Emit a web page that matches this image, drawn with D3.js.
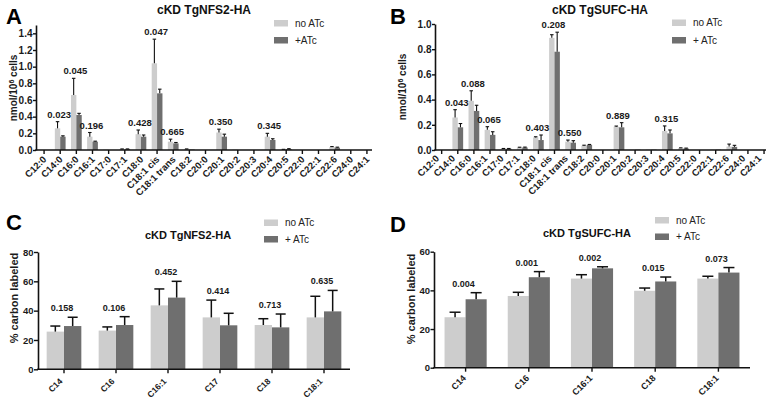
<!DOCTYPE html>
<html><head><meta charset="utf-8">
<script src="https://cdn.jsdelivr.net/npm/d3@7"></script>
<style>body{margin:0;background:#fff}svg{display:block;font-family:"Liberation Sans",Arial,Helvetica,sans-serif}</style>
</head><body><svg id="c" width="771" height="401"></svg>
<script>
// ---------- data ----------
const fattyAcids = ["C12:0","C14:0","C16:0","C16:1","C17:0","C17:1","C18:0","C18:1 cis","C18:1 trans","C18:2","C20:0","C20:1","C20:2","C20:3","C20:4","C20:5","C22:0","C22:1","C22:6","C24:0","C24:1"];

const aNoATc     = [0, 0.26, 0.66, 0.16, 0.005, 0.01, 0.19, 1.04, 0.10, 0.01, 0, 0.21, 0.005, 0, 0.16, 0.006, 0, 0, 0.035, 0, 0];
const aNoATcErr  = [0, 0.08, 0.20, 0.05, 0, 0.003, 0.05, 0.29, 0.03, 0.003, 0, 0.04, 0, 0, 0.04, 0.002, 0, 0, 0.006, 0, 0];
const aPlusATc   = [0, 0.16, 0.42, 0.10, 0, 0.01, 0.16, 0.68, 0.08, 0.006, 0, 0.16, 0, 0, 0.12, 0.012, 0, 0, 0.028, 0, 0];
const aPlusATcErr= [0, 0.01, 0.02, 0.006, 0, 0.003, 0.02, 0.05, 0.01, 0, 0, 0.03, 0, 0, 0.015, 0.004, 0, 0, 0.006, 0, 0];
const aPLabels   = [[1,"0.023"],[2,"0.045"],[3,"0.196"],[6,"0.428"],[7,"0.047"],[8,"0.665"],[11,"0.350"],[14,"0.345"]];

const bNoATc     = [0, 0.258, 0.39, 0.16, 0.01, 0.02, 0.10, 0.89, 0.066, 0.034, 0, 0.185, 0.003, 0.003, 0.151, 0.015, 0, 0.003, 0.027, 0, 0];
const bNoATcErr  = [0, 0.062, 0.08, 0.025, 0.002, 0.002, 0.005, 0.025, 0.013, 0.004, 0, 0.005, 0, 0, 0.04, 0.002, 0, 0, 0.02, 0, 0];
const bPlusATc   = [0, 0.18, 0.31, 0.12, 0.01, 0.02, 0.079, 0.78, 0.058, 0.04, 0, 0.18, 0.003, 0.003, 0.132, 0.012, 0, 0.003, 0.025, 0, 0];
const bPlusATcErr= [0, 0.03, 0.045, 0.025, 0.002, 0.003, 0.04, 0.155, 0.016, 0.004, 0, 0.037, 0, 0, 0.027, 0.003, 0, 0, 0.012, 0, 0];
const bPLabels   = [[1,"0.043"],[2,"0.088"],[3,"0.065"],[6,"0.403"],[7,"0.208"],[8,"0.550"],[11,"0.889"],[14,"0.315"]];

const cCats       = ["C14","C16","C16:1","C17","C18","C18:1"];
const cNoATc      = [25.7, 26.4, 43.6, 35.4, 30.2, 35.4];
const cNoATcErr   = [3.8, 2.5, 11.2, 11.8, 4.3, 14.4];
const cPlusATc    = [29.5, 30.2, 48.9, 30.0, 28.6, 39.5];
const cPlusATcErr = [6.0, 5.7, 11.1, 8.2, 9.1, 14.3];
const cPLabels    = ["0.158","0.106","0.452","0.414","0.713","0.635"];

const dCats       = ["C14","C16","C16:1","C18","C18:1"];
const dNoATc      = [26.1, 37.1, 46.1, 39.8, 46.1];
const dNoATcErr   = [2.6, 1.9, 2.0, 1.4, 1.2];
const dPlusATc    = [35.4, 46.8, 51.4, 44.6, 49.2];
const dPlusATcErr = [3.4, 2.9, 0.8, 2.3, 2.6];
const dPLabels    = ["0.004","0.001","0.002","0.015","0.073"];

const ticksA = [0,0.2,0.4,0.6,0.8,1.0,1.2,1.4];
const ticksB = [0,0.2,0.4,0.6,0.8,1.0];
const ticksC = [0,20,40,60,80];
const ticksD = [0,20,40,60];

const LIGHT = "#cdcdcd", DARK = "#6f6f6f", INK = "#111";

// ---------- drawing ----------
const svg = d3.select("#c");

function panel(o){
  const g = svg.append("g");
  const y = d3.scaleLinear().domain([0, o.max]).range([o.y0, o.yTop]);
  const x = d3.scaleBand().domain(o.cats).range(o.band).paddingInner(0).paddingOuter(0);
  const bw = x.bandwidth()/3;

  const rows = o.cats.map((c,i)=>({c, n:o.no[i], ne:o.noErr[i], p:o.plus[i], pe:o.plusErr[i]}));
  const series = [
    {key:"n", err:"ne", color:LIGHT, off:-bw},
    {key:"p", err:"pe", color:DARK, off:0}
  ];
  series.forEach(s=>{
    g.selectAll(null).data(rows).enter().append("rect")
      .attr("x", d=>x(d.c)+x.bandwidth()/2+s.off)
      .attr("y", d=>y(d[s.key]))
      .attr("width", bw)
      .attr("height", d=>y(0)-y(d[s.key]))
      .attr("fill", s.color);
    const eb = rows.filter(d=>d[s.err]>0);
    const cx = d=>x(d.c)+x.bandwidth()/2+s.off+bw/2;
    g.selectAll(null).data(eb).enter().append("line")
      .attr("x1",cx).attr("x2",cx)
      .attr("y1",d=>y(d[s.key])).attr("y2",d=>y(d[s.key]+d[s.err]))
      .attr("stroke",INK).attr("stroke-width",o.ew);
    g.selectAll(null).data(eb).enter().append("line")
      .attr("x1",d=>cx(d)-o.cap/2).attr("x2",d=>cx(d)+o.cap/2)
      .attr("y1",d=>y(d[s.key]+d[s.err])).attr("y2",d=>y(d[s.key]+d[s.err]))
      .attr("stroke",INK).attr("stroke-width",o.ew);
  });

  g.selectAll(null).data(o.pl).enter().append("text")
    .attr("x", d=>x(o.cats[d[0]])+x.bandwidth()/2+o.plDx)
    .attr("y", d=>{const i=d[0]; return y(Math.max(o.no[i]+o.noErr[i], o.plus[i]+o.plusErr[i]))-o.plGap;})
    .attr("text-anchor","middle").attr("font-weight","bold").attr("font-size",o.plSize).attr("fill","#1a1a1a")
    .text(d=>d[1]);

  const ya = g.append("g").attr("transform",`translate(${o.ax},0)`)
    .call(d3.axisLeft(y).tickValues(o.ticks).tickFormat(o.fmt).tickSize(o.yTick).tickSizeOuter(0).tickPadding(0.5));
  ya.select(".domain").attr("stroke",INK).attr("stroke-width",1.6);
  ya.selectAll(".tick line").attr("stroke",INK).attr("stroke-width",1.4);
  ya.selectAll(".tick text").attr("font-size",o.ytSize).attr("font-weight","bold").attr("fill","#1a1a1a").attr("font-family",null);

  const xa = g.append("g").attr("transform",`translate(0,${o.y0})`)
    .call(d3.axisBottom(x).tickSize(4).tickSizeOuter(0));
  xa.select(".domain").remove();
  xa.append("line").attr("x1",o.ax-0.8).attr("x2",o.axEnd).attr("stroke",INK).attr("stroke-width",1.6);
  xa.selectAll(".tick line").attr("stroke",INK).attr("stroke-width",1.4);
  xa.selectAll(".tick text")
    .attr("font-size",o.xtSize).attr("font-weight","bold").attr("fill","#1a1a1a").attr("font-family",null)
    .attr("text-anchor","end").attr("y",null).attr("dy",null)
    .attr("transform",`translate(${o.xtDx},${o.xtDy}) rotate(-45)`);

  const yl = g.append("text").attr("transform",`translate(${o.ylX},${o.ylY}) rotate(-90)`)
    .attr("text-anchor","middle").attr("font-weight","bold").attr("font-size",o.ylSize).attr("fill","#1a1a1a");
  if (o.sup){
    yl.append("tspan").text("nmol/10");
    yl.append("tspan").attr("baseline-shift","super").attr("font-size",o.ylSize*0.7).text("6");
    yl.append("tspan").text(" cells");
  } else {
    yl.text(o.ylabel);
  }

  g.append("text").attr("x",o.tX).attr("y",o.tY).attr("text-anchor","middle")
    .attr("font-weight","bold").attr("font-size",o.tSize).attr("fill","#111").text(o.title);
  g.append("text").attr("x",o.lX).attr("y",o.lY).attr("font-weight","bold").attr("font-size",22).attr("fill","#000").text(o.letter);

  o.leg.forEach((t,i)=>{
    g.append("rect").attr("x",o.gX).attr("y",o.gY+i*o.gStep).attr("width",14).attr("height",6.5).attr("fill",i?DARK:LIGHT);
    g.append("text").attr("x",o.gX+21).attr("y",o.gY+i*o.gStep+6.8).attr("font-size",10).attr("fill","#222").text(t);
  });
}

panel({letter:"A", lX:6, lY:24, title:"cKD TgNFS2-HA", tX:204, tY:14, tSize:12,
  cats:fattyAcids, no:aNoATc, noErr:aNoATcErr, plus:aPlusATc, plusErr:aPlusATcErr, pl:aPLabels,
  max:1.5, ticks:ticksA, fmt:d3.format(".1f"), y0:150, yTop:25, ax:36, axEnd:372, band:[36,375], yTick:3,
  ew:1.1, cap:3.5, plSize:9.5, plGap:4, plDx:-1, ytSize:10, xtSize:9.5, xtDx:3, xtDy:10,
  sup:true, ylX:17, ylY:88, ylSize:10,
  gX:274, gY:20, gStep:17, leg:["no ATc","+ATc"]});

panel({letter:"B", lX:390, lY:24, title:"cKD TgSUFC-HA", tX:600, tY:14, tSize:12,
  cats:fattyAcids, no:bNoATc, noErr:bNoATcErr, plus:bPlusATc, plusErr:bPlusATcErr, pl:bPLabels,
  max:1.0, ticks:ticksB, fmt:d3.format(".1f"), y0:150, yTop:24, ax:435, axEnd:766, band:[433.6,772.1], yTick:3,
  ew:1.1, cap:3.5, plSize:9.5, plGap:4, plDx:-1, ytSize:10, xtSize:9.5, xtDx:-2, xtDy:9,
  sup:true, ylX:406, ylY:87, ylSize:10,
  gX:672, gY:19.5, gStep:17.5, leg:["no ATc","+ ATc"]});

panel({letter:"C", lX:6, lY:230, title:"cKD TgNFS2-HA", tX:188, tY:238.5, tSize:11,
  cats:cCats, no:cNoATc, noErr:cNoATcErr, plus:cPlusATc, plusErr:cPlusATcErr, pl:cCats.map((c,i)=>[i,cPLabels[i]]),
  max:80, ticks:ticksC, fmt:d3.format("d"), y0:369.3, yTop:252, ax:38, axEnd:350, band:[38,350], yTick:4,
  ew:1.5, cap:10, plSize:9, plGap:6, plDx:-2, ytSize:9.5, xtSize:8.5, xtDx:-1, xtDy:12.5,
  sup:false, ylabel:"% carbon labeled", ylX:18, ylY:298, ylSize:11,
  gX:264, gY:219.5, gStep:16.5, leg:["no ATc","+ ATc"]});

panel({letter:"D", lX:390, lY:232, title:"cKD TgSUFC-HA", tX:587, tY:237, tSize:11,
  cats:dCats, no:dNoATc, noErr:dNoATcErr, plus:dPlusATc, plusErr:dPlusATcErr, pl:dCats.map((c,i)=>[i,dPLabels[i]]),
  max:60, ticks:ticksD, fmt:d3.format("d"), y0:367.7, yTop:251.7, ax:434, axEnd:750, band:[434,750], yTick:3.5,
  ew:1.5, cap:11, plSize:9, plGap:6, plDx:-2, ytSize:9.5, xtSize:9, xtDx:1, xtDy:11,
  sup:false, ylabel:"% carbon labeled", ylX:415, ylY:299, ylSize:11,
  gX:655, gY:217, gStep:16.5, leg:["no ATc","+ ATc"]});
</script>
</body></html>
